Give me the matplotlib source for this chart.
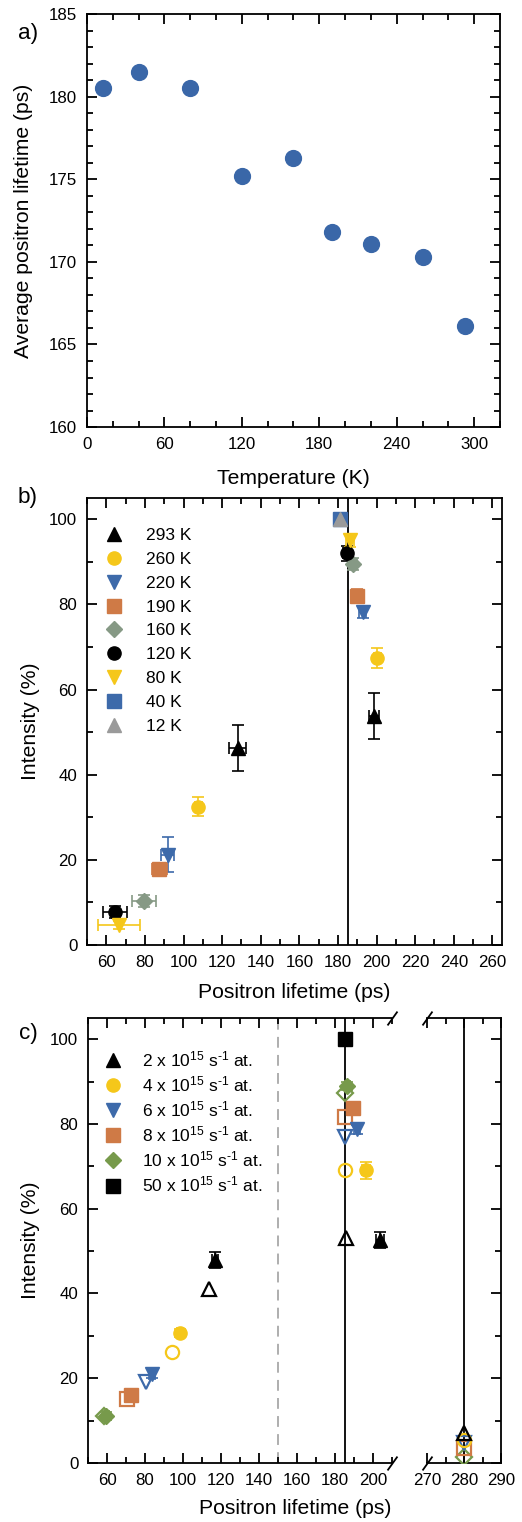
import numpy as np
import matplotlib
matplotlib.use("Agg")
import matplotlib.pyplot as plt
from matplotlib.ticker import MultipleLocator

plt.rcParams['font.family'] = ['Liberation Sans', 'DejaVu Sans']
plt.rcParams['mathtext.fontset'] = 'custom'
plt.rcParams['mathtext.rm'] = 'Liberation Sans'
plt.rcParams['mathtext.it'] = 'Liberation Sans:italic'
plt.rcParams['axes.linewidth'] = 1.3

# a) average positron lifetime vs temperature
temp_K = [12, 40, 80, 120, 160, 190, 220, 260, 293]
tau_avg = [180.5, 181.5, 180.5, 175.2, 176.3, 171.8, 171.1, 170.3, 166.1]

# b) lifetime components per temperature (tau, intensity, errors)
b_labels = ['293 K', '260 K', '220 K', '190 K', '160 K', '120 K', '80 K', '40 K', '12 K']
b_markers = ['^', 'o', 'v', 's', 'D', 'o', 'v', 's', '^']
b_colors = ['black', '#f5c71a', '#3d6aaa', '#cf7a46', '#869985',
            'black', '#f5c71a', '#3d6aaa', '#9a9a9a']
b_tau = [[128.1, 198.7], [107.7, 200.4], [91.8, 192.8], [87.5, 190.0], [79.5, 187.7],
         [64.5, 184.5], [66.7, 186.3], [181.0], [181.2]]
b_int = [[46.3, 53.9], [32.5, 67.4], [21.2, 78.2], [17.8, 82.0], [10.4, 89.6],
         [7.7, 92.0], [4.7, 95.1], [100.0], [100.0]]
b_tau_err = [[4.3, 2.4], [2.0, 1.8], [3.4, 1.8], [3.9, 1.8], [6.3, 2.0],
             [6.3, 2.0], [11.0, 2.0], [1.5], [1.0]]
b_int_err = [[5.4, 5.4], [2.2, 2.3], [4.1, 1.3], [1.5, 1.6], [1.4, 1.4],
             [1.4, 1.8], [1.0, 1.5], [1.5], [1.0]]

# c) lifetime components per dose rate
c_labels = ['2 x 10$^{15}$ s$^{\\text{-}1}$ at.', '4 x 10$^{15}$ s$^{\\text{-}1}$ at.',
            '6 x 10$^{15}$ s$^{\\text{-}1}$ at.', '8 x 10$^{15}$ s$^{\\text{-}1}$ at.',
            '10 x 10$^{15}$ s$^{\\text{-}1}$ at.', '50 x 10$^{15}$ s$^{\\text{-}1}$ at.']
c_markers = ['^', 'o', 'v', 's', 'D', 's']
c_colors = ['black', '#f5c71a', '#3d6aaa', '#cf7a46', '#779a4b', 'black']
# free fit (filled, with error bars)
c_tau = [[116.8, 203.7], [98.4, 196.3], [83.5, 191.7], [72.5, 189.6], [59.5, 186.5], [185.3]]
c_int = [[47.9, 52.6], [30.7, 69.1], [21.1, 78.7], [16.0, 83.7], [11.1, 88.9], [100.0]]
c_tau_err = [[1.5, 2.0], [1.5, 2.0], [1.5, 1.5], [1.5, 1.5], [1.5, 1.2], [0.5]]
c_int_err = [[1.8, 1.9], [1.0, 2.0], [1.0, 1.0], [1.0, 1.0], [1.0, 1.0], [0.5]]
# fit with fixed components (open)
c_open_tau = [[113.7, 185.6], [94.2, 185.3], [80.5, 185.3], [70.4, 185.3], [58.5, 185.3]]
c_open_int = [[41.0, 53.0], [26.1, 69.1], [19.0, 77.0], [15.2, 81.7], [11.0, 87.2]]
c_tau3 = 280
c_int3 = [7.0, 5.5, 4.8, 3.5, 1.5]

TICK = 12.2
LEG = 12.5
LAB = 15.2

fig = plt.figure(figsize=(5.22, 15.22), dpi=100)


def style(ax, xmaj, xmin, ymaj, ymin):
    ax.xaxis.set_major_locator(MultipleLocator(xmaj))
    ax.xaxis.set_minor_locator(MultipleLocator(xmin))
    ax.yaxis.set_major_locator(MultipleLocator(ymaj))
    ax.yaxis.set_minor_locator(MultipleLocator(ymin))
    ax.tick_params(which='both', direction='in', top=True, right=True,
                   labelsize=TICK, width=1.3, pad=7)
    ax.tick_params(which='major', length=7)
    ax.tick_params(which='minor', length=4.5)


def ms_for(m):
    return 8.5 if m == 'D' else 9.5


# ---- a)
ax1 = fig.add_axes([0.1667, 0.7194, 0.791, 0.2714])
ax1.scatter(temp_K, tau_avg, s=130, color='#3a67a8', zorder=3)
ax1.set_xlim(0, 320)
ax1.set_ylim(160, 185)
style(ax1, 60, 20, 5, 1)
ax1.set_xlabel('Temperature (K)', fontsize=LAB, va='center')
ax1.set_ylabel('Average positron lifetime (ps)', fontsize=LAB, va='center')
ax1.xaxis.set_label_coords(0.5, -0.1235)
ax1.yaxis.set_label_coords(-0.155, 0.5)
fig.text(28 / 522, 1 - 33 / 1522, 'a)', fontsize=LAB + 1, ha='center', va='center')

# ---- b)
ax2 = fig.add_axes([0.1667, 0.3791, 0.795, 0.2937])
ax2.axvline(185, color='black', lw=1.3, zorder=1)
for i in range(len(b_labels)):
    ax2.errorbar(b_tau[i], b_int[i], xerr=b_tau_err[i], yerr=b_int_err[i],
                 fmt=b_markers[i], color=b_colors[i], ms=ms_for(b_markers[i]),
                 elinewidth=1.2, capsize=4, capthick=1.2, label=b_labels[i], zorder=3)
ax2.set_xlim(50, 265)
ax2.set_ylim(0, 105)
style(ax2, 20, 10, 20, 10)
ax2.set_xlabel('Positron lifetime (ps)', fontsize=LAB, va='center')
ax2.set_ylabel('Intensity (%)', fontsize=LAB, va='center')
ax2.xaxis.set_label_coords(0.5, -0.107)
ax2.yaxis.set_label_coords(-0.137, 0.5)
h, l = ax2.get_legend_handles_labels()
h = [hh[0] for hh in h]
ax2.legend(h, l, loc='upper left', bbox_to_anchor=(-0.004, 0.968), frameon=False,
           fontsize=LEG, handletextpad=1.07, labelspacing=0.5, handlelength=1.5)
fig.text(28 / 522, 1 - 498 / 1522, 'b)', fontsize=LAB + 1, ha='center', va='center')

# ---- c) broken x axis
ax3 = fig.add_axes([0.1686, 0.03877, 0.5824, 0.2924])
ax4 = fig.add_axes([0.818, 0.03877, 0.1418, 0.2924], sharey=ax3)
ax3.axvline(150, color='#a8a8a8', lw=1.3, ls=(0, (6, 4)), zorder=1)
ax3.axvline(185, color='black', lw=1.3, zorder=1)
ax4.axvline(c_tau3, color='black', lw=1.3, zorder=1)
for ax in (ax3, ax4):
    for i in range(len(c_labels)):
        ax.errorbar(c_tau[i], c_int[i], xerr=c_tau_err[i], yerr=c_int_err[i],
                    fmt=c_markers[i], color=c_colors[i], ms=ms_for(c_markers[i]),
                    elinewidth=1.2, capsize=4, capthick=1.2, label=c_labels[i], zorder=3)
    for i in range(len(c_open_tau)):
        ax.plot(c_open_tau[i], c_open_int[i], c_markers[i], mfc='none', mec=c_colors[i],
                mew=1.6, ms=ms_for(c_markers[i]), linestyle='none', zorder=2.5)
        ax.plot([c_tau3], [c_int3[i]], c_markers[i], mfc='none', mec=c_colors[i],
                mew=1.6, ms=ms_for(c_markers[i]), linestyle='none', zorder=4 - i * 0.1)
ax3.set_xlim(50, 210)
ax4.set_xlim(270, 290)
ax3.set_ylim(0, 105)
style(ax3, 20, 10, 20, 10)
style(ax4, 10, 5, 20, 10)
ax3.spines['right'].set_visible(False)
ax4.spines['left'].set_visible(False)
ax3.tick_params(which='both', right=False)
ax4.tick_params(which='both', left=False, labelleft=False)
ax3.set_xticks(np.arange(60, 201, 20))
for ax, xs in ((ax3, 1), (ax4, 0)):
    ax.plot([xs, xs], [0, 1], transform=ax.transAxes, marker=[(-1, -1.4), (1, 1.4)],
            ms=10, linestyle='none', color='k', mec='k', mew=1.3, clip_on=False)
ax3.set_ylabel('Intensity (%)', fontsize=LAB, va='center')
ax3.yaxis.set_label_coords(-0.19, 0.5)
fig.text(295 / 522, 1 - 1508 / 1522, 'Positron lifetime (ps)', fontsize=LAB,
         ha='center', va='center')
h, l = ax3.get_legend_handles_labels()
h = [hh[0] for hh in h]
ax3.legend(h, l, loc='upper left', bbox_to_anchor=(-0.013, 0.965), frameon=False,
           fontsize=LEG, handletextpad=0.95, labelspacing=0.3, handlelength=1.5)
fig.text(28 / 522, 1 - 1033 / 1522, 'c)', fontsize=LAB + 1, ha='center', va='center')

fig.savefig('out.png', dpi=100)
